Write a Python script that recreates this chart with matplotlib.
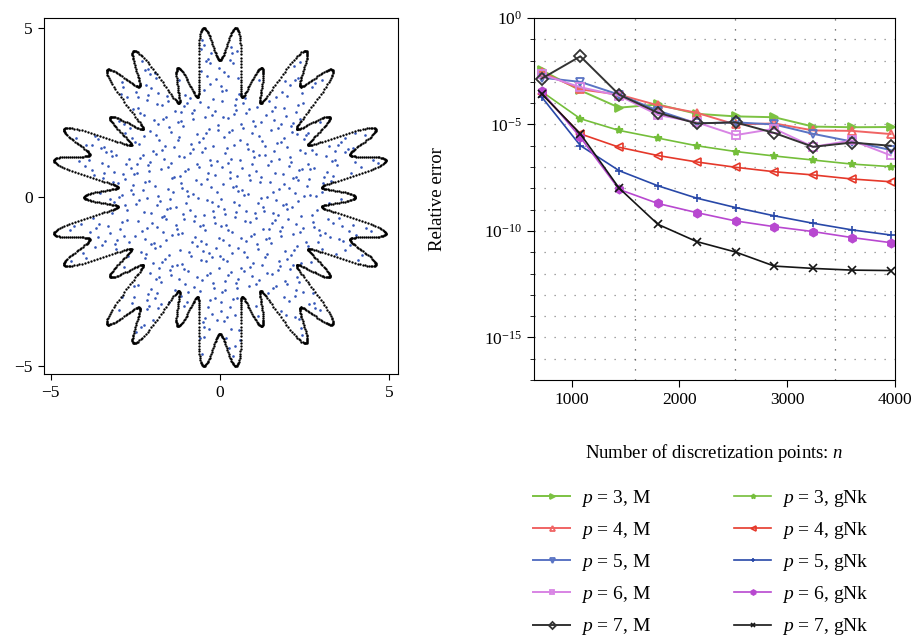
import numpy as np
import matplotlib.pyplot as plt
from matplotlib.ticker import FixedLocator, NullFormatter, LogFormatterMathtext

plt.rcParams['font.family'] = ['Liberation Serif', 'DejaVu Serif']
plt.rcParams['mathtext.fontset'] = 'custom'
plt.rcParams['mathtext.rm'] = 'Liberation Serif'
plt.rcParams['mathtext.it'] = 'Liberation Serif:italic'

# discretization points n
n_points = [720, 1080, 1440, 1800, 2160, 2520, 2880, 3240, 3600, 3960]

# log10 of relative error
err_M3 = [-2.45, -3.40, -4.21, -4.06, -4.50, -4.62, -4.66, -5.10, -5.13, -5.12]
err_M4 = [-2.55, -3.35, -3.60, -4.10, -4.45, -5.00, -4.95, -5.28, -5.30, -5.45]
err_M5 = [-2.80, -3.00, -3.60, -4.35, -4.95, -4.90, -5.00, -5.44, -5.80, -6.20]
err_M6 = [-2.65, -3.25, -3.65, -4.55, -4.90, -5.50, -5.20, -6.05, -5.75, -6.45]
err_M7 = [-2.85, -1.80, -3.60, -4.45, -4.95, -4.90, -5.40, -6.05, -5.85, -6.00]
err_G3 = [-3.45, -4.73, -5.28, -5.64, -6.00, -6.27, -6.48, -6.67, -6.86, -6.98]
err_G4 = [-3.55, -5.44, -6.07, -6.46, -6.76, -7.01, -7.22, -7.37, -7.56, -7.69]
err_G5 = [-3.70, -5.99, -7.17, -7.88, -8.46, -8.90, -9.29, -9.64, -9.95, -10.19]
err_G6 = [-3.45, -5.60, -8.05, -8.71, -9.14, -9.53, -9.80, -10.03, -10.31, -10.55]
err_G7 = [-3.55, -5.44, -7.99, -9.69, -10.50, -10.99, -11.65, -11.76, -11.84, -11.86]

labels_M = ['$p$ = 3, M', '$p$ = 4, M', '$p$ = 5, M', '$p$ = 6, M', '$p$ = 7, M']
labels_G = ['$p$ = 3, gNk', '$p$ = 4, gNk', '$p$ = 5, gNk', '$p$ = 6, gNk', '$p$ = 7, gNk']

# star shaped domain: r(theta) = c - a cos(10 theta) + b cos(30 theta)
star_c, star_a, star_b = 4.03, 0.66, 0.64


def star_r(t):
    return star_c - star_a * np.cos(10 * t) + star_b * np.cos(30 * t)


def halton(i, base):
    f, r = 1.0, 0.0
    while i > 0:
        f /= base
        r += f * (i % base)
        i //= base
    return r


fig = plt.figure(figsize=(9.24, 6.39), dpi=100)

# ---- left: domain and interior points
ax1 = fig.add_axes([44 / 924, 1 - 374 / 639, 354 / 924, 356 / 639])
hx = np.array([halton(i, 2) for i in range(1, 1500)]) * 10.4 - 5.2
hy = np.array([halton(i, 3) for i in range(1, 1500)]) * 10.4 - 5.2
inside = np.hypot(hx, hy) < 0.96 * star_r(np.arctan2(hy, hx))
ax1.plot(hx[inside], hy[inside], '.', color='#3456b8', ms=3.8, mew=0)

t = np.linspace(0, 2 * np.pi, 1700, endpoint=False)
ax1.plot(star_r(t) * np.cos(t), star_r(t) * np.sin(t), '.', color='k', ms=3.4, mew=0)
ax1.set_xlim(-5.2, 5.27)
ax1.set_ylim(-5.24, 5.3)
ax1.set_xticks([-5, 0, 5])
ax1.set_yticks([-5, 0, 5])
ax1.set_xticklabels(['\u22125', '0', '5'])
ax1.set_yticklabels(['\u22125', '0', '5'])
ax1.tick_params(direction='out', length=4, width=0.8, labelsize=12.5, pad=4)

# ---- right: convergence
ax2 = fig.add_axes([534 / 924, 1 - 380 / 639, 361 / 924, 362 / 639])
n = np.array(n_points)
styles_M = [('#7cc242', '>', 'full'), ('#f06464', '^', 'none'), ('#5a74c4', 'v', 'none'),
            ('#d884e4', 's', 'none'), ('#333333', 'D', 'none')]
styles_G = [('#74be3a', '*', 'full'), ('#e5382a', '<', 'none'), ('#2848a8', '+', 'none'),
            ('#b848d0', 'h', 'full'), ('#151515', 'x', 'none')]
handles = []
for errs, (col, mk, fill), lab in zip([err_M3, err_M4, err_M5, err_M6, err_M7], styles_M, labels_M):
    h, = ax2.plot(n, 10.0 ** np.array(errs), color=col, marker=mk, fillstyle=fill,
                  ms=6, mew=1.3, lw=1.4, label=lab)
    handles.append(h)
for errs, (col, mk, fill), lab in zip([err_G3, err_G4, err_G5, err_G6, err_G7], styles_G, labels_G):
    h, = ax2.plot(n, 10.0 ** np.array(errs), color=col, marker=mk, fillstyle=fill,
                  ms=6, mew=1.2, lw=1.2, label=lab)
    handles.append(h)

ax2.set_yscale('log')
ax2.set_xlim(650, 4000)
ax2.set_ylim(1e-17, 1e0)
ax2.set_xticks([1000, 2000, 3000, 4000])
ax2.yaxis.set_major_locator(FixedLocator([1e-15, 1e-10, 1e-5, 1e0]))
ax2.yaxis.set_major_formatter(LogFormatterMathtext())
ax2.yaxis.set_minor_locator(FixedLocator(10.0 ** np.arange(-17, 1)))
ax2.yaxis.set_minor_formatter(NullFormatter())
ax2.tick_params(which='both', direction='out', labelsize=12.5)
ax2.tick_params(which='major', length=5, width=0.8)
ax2.tick_params(which='minor', length=3, width=0.6)
for yv in 10.0 ** np.arange(-16, 0):
    ax2.axhline(yv, color='#888888', lw=0.9, ls=(0, (1, 7)), zorder=0)
for xv in [1590, 2515, 3440]:
    ax2.axvline(xv, color='#555555', lw=0.9, ls=(0, (1, 7)), zorder=0)

ax2.set_xlabel('Number of discretization points: $n$', fontsize=13.5)
ax2.xaxis.set_label_coords(0.5, -0.17)
ax2.set_ylabel('Relative error', fontsize=13.5)
ax2.yaxis.set_label_coords(-0.245, 0.5)

fig.legend(handles=handles, ncol=2, loc='upper left', bbox_to_anchor=(0.5665, 0.252),
           frameon=False, fontsize=14, handlelength=1.9, handletextpad=0.55,
           columnspacing=4.3, labelspacing=0.575, borderpad=0, markerscale=0.6)

fig.savefig('out.png', dpi=100)
